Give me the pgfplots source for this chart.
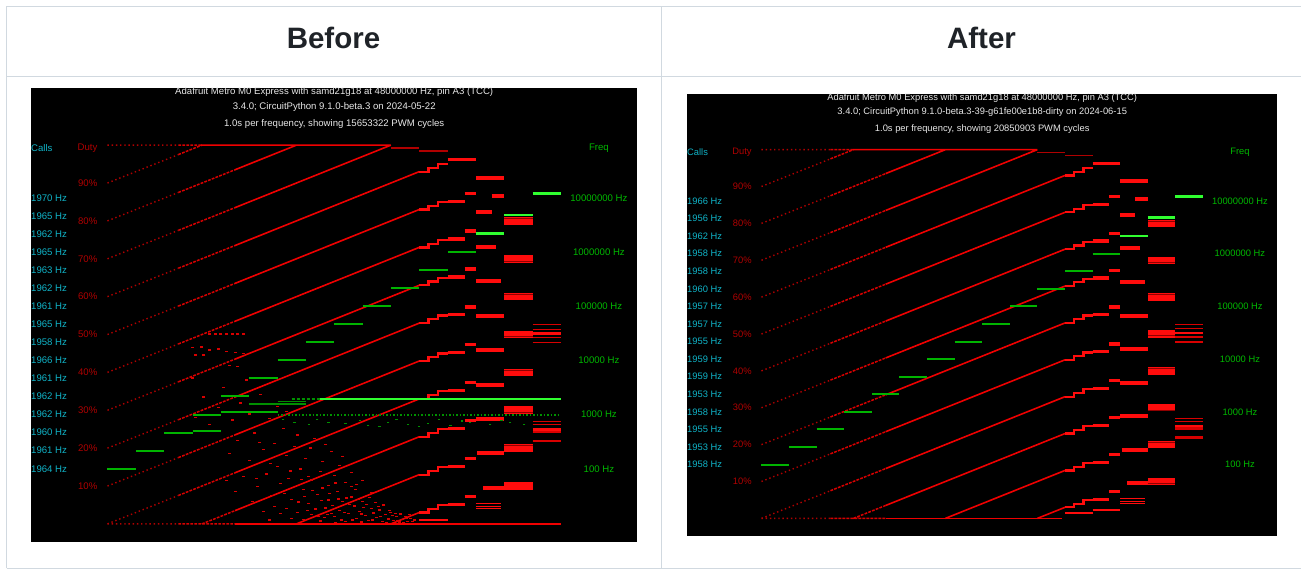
\documentclass[border=0pt]{standalone}
\usepackage{fontspec}
\setmainfont{Liberation Sans}
\usepackage{pgfplots}
\usepackage{pgfplotstable}
\pgfplotsset{compat=1.18}

\definecolor{cellborder}{HTML}{D1D9E0}
\definecolor{headtext}{HTML}{1F2328}
\definecolor{callscol}{HTML}{10B4C8}
\definecolor{dutycol}{HTML}{B00000}
\definecolor{freqcol}{HTML}{00B800}
\definecolor{titlecol}{HTML}{E8E8E8}
\definecolor{trace}{HTML}{F00000}
\definecolor{tracedim}{HTML}{B00000}
\definecolor{tracemid}{HTML}{D80000}
\definecolor{blockred}{HTML}{FF0C0C}
\definecolor{blockdark}{HTML}{900000}
\definecolor{gseg}{HTML}{00B400}
\definecolor{gbright}{HTML}{30FF30}
\definecolor{gdim}{HTML}{009000}

% ---------- duty traces, low frequencies (sparse samples) ----------
\pgfplotstableread[row sep=\\]{
t d\\
0 100\\ 2.5 100\\ nan nan\\
0 90\\ 2.5 97.5\\ nan nan\\
0 80\\ 2.5 87.5\\ nan nan\\
0 70\\ 2.5 77.5\\ nan nan\\
0 60\\ 2.5 67.5\\ nan nan\\
0 50\\ 2.5 57.5\\ nan nan\\
0 40\\ 2.5 47.5\\ nan nan\\
0 30\\ 2.5 37.5\\ nan nan\\
0 20\\ 2.5 27.5\\ nan nan\\
0 10\\ 2.5 17.5\\ nan nan\\
0 0\\ 2.5 7.5\\ nan nan\\
0 0\\ 2.5 0\\
}\sparselines

\pgfplotstableread[row sep=\\]{
t d\\
2.5 100\\ 3.3 100\\ nan nan\\
2.5 97.5\\ 3.333 100\\ nan nan\\
2.5 87.5\\ 4.5 93.5\\ nan nan\\
2.5 77.5\\ 4.5 83.5\\ nan nan\\
2.5 67.5\\ 4.5 73.5\\ nan nan\\
2.5 57.5\\ 4.5 63.5\\ nan nan\\
2.5 47.5\\ 4.5 53.5\\ nan nan\\
2.5 37.5\\ 4.5 43.5\\ nan nan\\
2.5 27.5\\ 4.5 33.5\\ nan nan\\
2.5 17.5\\ 4.5 23.5\\ nan nan\\
2.5 7.5\\ 4.5 13.5\\ nan nan\\
3.333 0\\ 4.5 3.5\\ nan nan\\
2.5 0\\ 4.5 0\\
}\denselines

\pgfplotstableread[row sep=\\]{
t d\\
3.3 100\\ 10 100\\ nan nan\\
4.5 93.5\\ 6.667 100\\ nan nan\\
4.5 83.5\\ 10 100\\ nan nan\\
4.5 73.5\\ 11 93\\ nan nan\\
4.5 63.5\\ 11 83\\ nan nan\\
4.5 53.5\\ 11 73\\ nan nan\\
4.5 43.5\\ 11 63\\ nan nan\\
4.5 33.5\\ 11 53\\ nan nan\\
4.5 23.5\\ 11 43\\ nan nan\\
4.5 13.5\\ 11 33\\ nan nan\\
4.5 3.5\\ 11 23\\ nan nan\\
6.667 0\\ 11 13\\ nan nan\\
10 0\\ 11 3\\
}\mainlines

% highest reachable duty at 215 kHz and 464 kHz
\pgfplotstableread[row sep=\\]{
t d\\
10 99.2\\ 11 99.2\\ nan nan\\
11 98.4\\ 12 98.4\\
}\toplevels

% ---------- quantised duty at high frequencies ----------
% 464 kHz: about 1 % per step
\pgfplotstableread[row sep=\\]{
t d\\
11 93\\ 11.33 93\\ 11.33 94\\ 11.67 94\\ 11.67 95\\ 12 95\\ nan nan\\
11 83\\ 11.33 83\\ 11.33 84\\ 11.67 84\\ 11.67 85\\ 12 85\\ nan nan\\
11 73\\ 11.33 73\\ 11.33 74\\ 11.67 74\\ 11.67 75\\ 12 75\\ nan nan\\
11 63\\ 11.33 63\\ 11.33 64\\ 11.67 64\\ 11.67 65\\ 12 65\\ nan nan\\
11 53\\ 11.33 53\\ 11.33 54\\ 11.67 54\\ 11.67 55\\ 12 55\\ nan nan\\
11 43\\ 11.33 43\\ 11.33 44\\ 11.67 44\\ 11.67 45\\ 12 45\\ nan nan\\
11 33\\ 11.33 33\\ 11.33 34\\ 11.67 34\\ 11.67 35\\ 12 35\\ nan nan\\
11 23\\ 11.33 23\\ 11.33 24\\ 11.67 24\\ 11.67 25\\ 12 25\\ nan nan\\
11 13\\ 11.33 13\\ 11.33 14\\ 11.67 14\\ 11.67 15\\ 12 15\\ nan nan\\
11 3\\ 11.33 3\\ 11.33 4\\ 11.67 4\\ 11.67 5\\ 12 5\\
}\stepsA

% 1 MHz: about 2 % per step
\pgfplotstableread[row sep=\\]{
t d\\
12 96.2\\ 13 96.2\\ nan nan\\
12 85.2\\ 12.6 85.2\\ nan nan\\ 12.6 87.3\\ 13 87.3\\ nan nan\\
12 75.2\\ 12.6 75.2\\ nan nan\\ 12.6 77.3\\ 13 77.3\\ nan nan\\
12 65.2\\ 12.6 65.2\\ nan nan\\ 12.6 67.3\\ 13 67.3\\ nan nan\\
12 55.2\\ 12.6 55.2\\ nan nan\\ 12.6 57.3\\ 13 57.3\\ nan nan\\
12 45.2\\ 12.6 45.2\\ nan nan\\ 12.6 47.3\\ 13 47.3\\ nan nan\\
12 35.2\\ 12.6 35.2\\ nan nan\\ 12.6 37.3\\ 13 37.3\\ nan nan\\
12 25.2\\ 12.6 25.2\\ nan nan\\ 12.6 27.3\\ 13 27.3\\ nan nan\\
12 15.2\\ 12.6 15.2\\ nan nan\\ 12.6 17.3\\ 13 17.3\\ nan nan\\
12 5.2\\ 12.6 5.2\\ nan nan\\ 12.6 7.3\\ 13 7.3\\
}\stepsB

% 2.2 MHz: 22 counts per period
\pgfplotstableread[row sep=\\]{
t d\\
13 91.4\\ 14 91.4\\ nan nan\\
13 82.3\\ 13.55 82.3\\ nan nan\\ 13.55 86.7\\ 14 86.7\\ nan nan\\
13 73.2\\ 13.7 73.2\\ nan nan\\
13 64.1\\ 13.9 64.1\\ nan nan\\
13 55.0\\ 14 55.0\\ nan nan\\
13 45.9\\ 14 45.9\\ nan nan\\
13 36.8\\ 14 36.8\\ nan nan\\
13 27.7\\ 14 27.7\\ nan nan\\
13.05 18.6\\ 14 18.6\\ nan nan\\
13.25 9.5\\ 14 9.5\\
}\stepsC

\pgfplotstableread[row sep=\\]{
t d\\
13 5.4\\ 13.9 5.4\\ nan nan\\
13 4.7\\ 13.9 4.7\\ nan nan\\
13 4.1\\ 13.9 4.1\\
}\stepsCthin

% 4.8 MHz: 10 counts per period
\pgfplotstableread[row sep=\\]{
t d\\
14 80\\ 15 80\\ nan nan\\
14 70\\ 15 70\\ nan nan\\
14 60\\ 15 60\\ nan nan\\
14 50\\ 15 50\\ nan nan\\
14 40\\ 15 40\\ nan nan\\
14 30\\ 15 30\\ nan nan\\
14 20\\ 15 20\\ nan nan\\
14 10\\ 15 10\\
}\bands

\pgfplotstableread[row sep=\\]{
t d\\
14 80.6\\ 15 80.6\\ nan nan\\
14 69.4\\ 15 69.4\\ nan nan\\
14 60.7\\ 15 60.7\\ nan nan\\
14 49.5\\ 15 49.5\\ nan nan\\
14 40.6\\ 15 40.6\\ nan nan\\
14 29.4\\ 15 29.4\\ nan nan\\
14 20.7\\ 15 20.7\\ nan nan\\
14 9.6\\ 15 9.6\\
}\bandstripes

% 12 MHz: 4 counts per period
\pgfplotstableread[row sep=\\]{
t d\\
15 52.6\\ 16 52.6\\ nan nan\\
15 51.4\\ 16 51.4\\ nan nan\\
15 49.2\\ 16 49.2\\ nan nan\\
15 47.8\\ 16 47.8\\ nan nan\\
15 27.0\\ 16 27.0\\ nan nan\\
15 26.3\\ 16 26.3\\ nan nan\\
15 24.5\\ 16 24.5\\ nan nan\\
15 24.2\\ 16 24.2\\ nan nan\\
15 22.1\\ 16 22.1\\ nan nan\\
15 21.7\\ 16 21.7\\
}\tenmeg

\pgfplotstableread[row sep=\\]{
t d\\
15 50.3\\ 16 50.3\\ nan nan\\
15 25.0\\ 16 25.0\\
}\tenmegcore

% ---------- measured frequency for each second ----------
\pgfplotstableread[row sep=\\]{
t f\\
0 100\\ 1 100\\ nan nan\\
1 215.4\\ 2 215.4\\ nan nan\\
2 464.2\\ 3 464.2\\ nan nan\\
3 1000\\ 4 1000\\ nan nan\\
4 2154\\ 5 2154\\ nan nan\\
5 4642\\ 6 4642\\ nan nan\\
6 10000\\ 7 10000\\ nan nan\\
7 21544\\ 8 21544\\ nan nan\\
8 46416\\ 9 46416\\ nan nan\\
9 100000\\ 10 100000\\ nan nan\\
10 215443\\ 11 215443\\ nan nan\\
11 464159\\ 12 464159\\ nan nan\\
12 1000000\\ 13 1000000\\
}\gsteps

\pgfplotstableread[row sep=\\]{
t f\\
13 2.18e6\\ 14 2.18e6\\ nan nan\\
14 4.8e6\\ 15 4.8e6\\ nan nan\\
15 1.2e7\\ 16 1.2e7\\
}\gbrightsteps

% ---------- glitches seen only in the old firmware ----------
\pgfplotstableread[row sep=\\]{
t d\\
6.7 3.1\\ 6.9 1.2\\ 7.1 5.4\\ 7.2 2.5\\ 7.4 7.8\\ 7.5 0.8\\ 7.7 4.2\\ 7.8 6.3\\
8.0 1.9\\ 8.1 8.5\\ 8.2 3.6\\ 8.3 5.9\\ 8.4 0.6\\ 8.5 2.8\\ 8.6 7.1\\ 8.7 4.7\\
8.8 1.4\\ 8.9 3.3\\ 9.0 6.0\\ 9.1 2.2\\ 9.2 0.9\\ 9.3 4.0\\ 9.4 2.9\\ 9.5 1.6\\
9.6 3.7\\ 9.7 0.7\\ 9.8 2.4\\ 9.9 1.3\\ 10.0 3.0\\ 10.1 0.9\\ 10.2 1.9\\ 10.3 0.5\\
10.4 1.1\\ 10.5 2.0\\ 10.6 0.7\\ 10.7 1.4\\ 7.9 2.7\\ 8.45 6.8\\ 9.15 5.1\\ 9.55 4.6\\
8.75 9.0\\ 7.35 3.9\\ 10.05 2.3\\ 9.85 0.4\\ 9.35 1.0\\ 8.25 1.0\\ 7.65 1.6\\ 8.95 0.5\\
6.75 5.8\\ 6.95 7.2\\ 7.05 3.6\\ 7.25 8.8\\ 7.45 1.9\\ 7.55 6.1\\ 7.75 2.4\\ 7.85 8.0\\
7.95 4.9\\ 8.05 0.4\\ 8.15 6.6\\ 8.35 3.1\\ 8.55 5.2\\ 8.65 1.0\\ 8.85 6.4\\ 8.95 2.6\\
9.05 4.4\\ 9.25 7.0\\ 9.45 5.6\\ 9.65 2.0\\ 9.75 5.0\\ 9.95 3.6\\ 10.15 2.8\\ 10.25 0.8\\
10.35 2.6\\ 10.45 0.3\\ 10.55 1.5\\ 10.65 2.4\\ 10.75 0.6\\ 10.85 1.0\\ 8.6 9.8\\ 9.3 8.2\\
7.6 9.5\\ 8.05 10.8\\ 9.0 11.5\\ 7.1 12.6\\ 6.3 4.0\\ 6.5 1.5\\ 6.1 2.8\\ 5.9 4.5\\
5.7 1.0\\ 5.5 3.2\\ 5.25 12.0\\ 5.75 16.0\\ 6.25 8.0\\ 6.85 11.8\\ 7.15 20.0\\ 7.7 21.0\\
6.45 14.0\\ 5.35 21.5\\
4.3 18.5\\ 4.6 22.0\\ 4.8 12.5\\ 5.0 16.8\\ 5.2 24.0\\ 5.3 9.8\\ 5.5 19.6\\ 5.6 13.2\\
5.8 7.5\\ 5.9 21.3\\ 6.0 15.1\\ 6.1 10.6\\ 6.2 25.2\\ 6.3 18.0\\ 6.4 12.0\\ 6.5 6.4\\
6.6 20.4\\ 6.8 14.5\\ 6.9 9.0\\ 7.0 17.2\\ 7.2 11.6\\ 7.3 22.6\\ 7.5 13.9\\ 7.6 16.4\\
7.8 10.2\\ 8.0 12.8\\ 8.2 15.5\\ 8.4 11.0\\ 8.6 13.6\\ 8.8 10.4\\ 5.1 6.0\\ 4.5 8.5\\
4.2 11.5\\ 6.7 23.5\\ 7.9 19.2\\ 8.3 17.8\\
3.1 28.0\\ 3.4 33.5\\ 3.6 26.2\\ 3.9 30.8\\ 4.1 36.0\\ 4.4 27.4\\ 4.7 31.9\\ 5.0 29.0\\
5.4 34.2\\ 5.7 27.8\\ 6.0 31.0\\ 6.3 29.6\\ 3.0 38.5\\ 4.9 38.0\\
3.6 50.1\\ 3.8 50.1\\ 4.0 50.1\\ 4.2 50.1\\ 4.4 50.1\\ 4.6 50.1\\ 4.8 50.1\\
3.0 46.5\\ 3.3 46.7\\ 3.6 45.9\\ 3.9 46.2\\ 4.2 45.6\\ 4.5 45.3\\ 4.8 45.0\\
3.1 44.6\\ 3.4 44.6\\ 4.3 41.8\\ 4.6 41.5\\
}\redglitches

\pgfplotstableread[row sep=\\]{
t f\\
3 500\\ 4 500\\ nan nan\\
4 1110\\ 5 1110\\ nan nan\\
5 1120\\ 6 1120\\
}\greenextra

\pgfplotstableread[row sep=\\]{
t f\\
5 1560\\ 7 1560\\ nan nan\\
6 1750\\ 7 1750\\
}\greendim

\pgfplotstableread[row sep=\\]{
t f\\
6.6 700\\ 7.1 650\\ 7.8 720\\ 8.4 680\\ 9.2 640\\ 9.9 700\\ 10.6 660\\ 11.3 690\\
12.1 640\\ 12.8 720\\ 13.5 650\\ 14.2 700\\ 6.2 820\\ 7.4 800\\ 8.9 780\\ 10.2 820\\
11.7 800\\ 12.5 760\\ 13.9 790\\ 14.7 660\\ 9.6 610\\ 11.0 600\\
}\greendots

% ---------- pieces shared by both panels ----------
\newcommand\pf{\fontsize{9.6bp}{11bp}\selectfont}
\newcommand\bandw{7.6bp}

\newcommand\dutytraces{%
  \addplot[tracedim, line width=1.4bp, dash pattern=on 1.4bp off 2.8bp] table {\sparselines};
  \addplot[tracemid, line width=1.5bp, dash pattern=on 2.8bp off 1.2bp] table {\denselines};
  \addplot[trace, line width=1.6bp] table {\mainlines};
  \addplot[tracedim, line width=1.6bp] table {\toplevels};
  \addplot[blockred, line width=2.2bp] table {\stepsA};
  \addplot[blockred, line width=3.3bp] table {\stepsB};
  \addplot[blockred, line width=4bp] table {\stepsC};
  \addplot[blockred, line width=1bp] table {\stepsCthin};
  \addplot[blockred, line width=\bandw] table {\bands};
  \addplot[blockdark, line width=0.8bp] table {\bandstripes};
  \addplot[tracemid, line width=1.3bp] table {\tenmeg};
  \addplot[blockred, line width=2.6bp] table {\tenmegcore};
}

\newcommand\dutylabels{%
  \node[anchor=west, inner sep=0pt, font=\pf, text=callscol] at (axis cs:-2.699,99.25) {Calls};
  \node[anchor=east, inner sep=0pt, font=\pf, text=dutycol] at (axis cs:-0.35,99.25) {Duty};
  \node[inner sep=0pt, font=\pf, text=freqcol] at (axis cs:17.34,99.25) {Freq};
  \node[anchor=east, inner sep=0pt, font=\pf, text=dutycol] at (axis cs:-0.35,90) {90\%};
  \node[anchor=east, inner sep=0pt, font=\pf, text=dutycol] at (axis cs:-0.35,80) {80\%};
  \node[anchor=east, inner sep=0pt, font=\pf, text=dutycol] at (axis cs:-0.35,70) {70\%};
  \node[anchor=east, inner sep=0pt, font=\pf, text=dutycol] at (axis cs:-0.35,60) {60\%};
  \node[anchor=east, inner sep=0pt, font=\pf, text=dutycol] at (axis cs:-0.35,50) {50\%};
  \node[anchor=east, inner sep=0pt, font=\pf, text=dutycol] at (axis cs:-0.35,40) {40\%};
  \node[anchor=east, inner sep=0pt, font=\pf, text=dutycol] at (axis cs:-0.35,30) {30\%};
  \node[anchor=east, inner sep=0pt, font=\pf, text=dutycol] at (axis cs:-0.35,20) {20\%};
  \node[anchor=east, inner sep=0pt, font=\pf, text=dutycol] at (axis cs:-0.35,10) {10\%};
}

\newcommand\freqlabels{%
  \node[inner sep=0pt, font=\pf, text=freqcol] at (axis cs:17.34,1e7) {10000000 Hz};
  \node[inner sep=0pt, font=\pf, text=freqcol] at (axis cs:17.34,1e6) {1000000 Hz};
  \node[inner sep=0pt, font=\pf, text=freqcol] at (axis cs:17.34,1e5) {100000 Hz};
  \node[inner sep=0pt, font=\pf, text=freqcol] at (axis cs:17.34,1e4) {10000 Hz};
  \node[inner sep=0pt, font=\pf, text=freqcol] at (axis cs:17.34,1e3) {1000 Hz};
  \node[inner sep=0pt, font=\pf, text=freqcol] at (axis cs:17.34,1e2) {100 Hz};
}

\newcommand\callsat[2]{\node[anchor=west, inner sep=0pt, font=\pf, text=callscol] at (axis cs:-2.699,#1) {#2 Hz};}

\newcommand\greenlevels{%
  \addplot[gseg, line width=2bp] table {\gsteps};
  \addplot[gbright, line width=2.4bp] table {\gbrightsteps};
}

\begin{document}
\begin{tikzpicture}[x=1bp,y=1bp]
\path[use as bounding box] (0,0) rectangle (1301,569);
\fill[white] (0,0) rectangle (1301,569);

% table frame
\draw[cellborder, line width=1.3bp] (6.7,0.7) -- (6.7,562.3) -- (1301,562.3);
\draw[cellborder, line width=1.3bp] (6.7,0.7) -- (1301,0.7);
\draw[cellborder, line width=1.3bp] (6.7,492.3) -- (1301,492.3);
\draw[cellborder, line width=1.3bp] (661.7,0.7) -- (661.7,562.3);
\node[font=\fontsize{29.5bp}{33bp}\selectfont\bfseries, text=headtext] at (333.5,531) {Before};
\node[font=\fontsize{29.5bp}{33bp}\selectfont\bfseries, text=headtext] at (981.5,531) {After};

% ================= Before =================
\begin{axis}[scale only axis, width=606bp, height=454bp, at={(31bp,27bp)}, anchor=south west,
  xmin=-2.699, xmax=18.684, ymin=-4.78, ymax=115.09,
  axis line style={draw=none}, ticks=none, unbounded coords=jump,
  axis background/.style={fill=black}]
  \addplot[only marks, mark=-, mark size=1.5bp, mark options={line width=1.3bp}, color=tracemid] table {\redglitches};
  \dutytraces
  \addplot[trace, line width=1.5bp] coordinates {(4.5,0) (16,0)};
  \addplot[blockred, line width=2.4bp] coordinates {(11,1.0) (12,1.0)};
  \addplot[blockred, line width=3bp] coordinates {(13.25,9.5) (15,9.5)};
  \node[font=\pf, text=titlecol] at (axis cs:8,113.95) {Adafruit Metro M0 Express with samd21g18 at 48000000 Hz, pin A3 (TCC)};
  \node[font=\pf, text=titlecol] at (axis cs:8,110.15) {3.4.0; CircuitPython 9.1.0-beta.3 on 2024-05-22};
  \node[font=\pf, text=titlecol] at (axis cs:8,105.5) {1.0s per frequency, showing 15653322 PWM cycles};
  \dutylabels
\end{axis}
\begin{axis}[ymode=log, scale only axis, width=606bp, height=454bp, at={(31bp,27bp)}, anchor=south west,
  xmin=-2.699, xmax=18.684, ymin=4.45, ymax=1.06e9,
  axis line style={draw=none}, ticks=none, unbounded coords=jump]
  \addplot[gdim, line width=1.5bp, dash pattern=on 1.5bp off 2bp] coordinates {(6,975) (16,975)};
  \addplot[only marks, mark=-, mark size=1.2bp, mark options={line width=1.1bp}, color=gdim] table {\greendots};
  \addplot[gdim, line width=1.6bp] table {\greendim};
  \addplot[gseg, line width=1.8bp] table {\greenextra};
  \greenlevels
  \addplot[gbright, line width=2bp] coordinates {(7.5,1926) (16,1926)};
  \addplot[gdim, line width=1.5bp, dash pattern=on 3bp off 2bp] coordinates {(6.5,1926) (7.5,1926)};
  \freqlabels
  \callsat{100}{1964}
  \callsat{215.4}{1961}
  \callsat{464.2}{1960}
  \callsat{1000}{1962}
  \callsat{2154}{1962}
  \callsat{4642}{1961}
  \callsat{10000}{1966}
  \callsat{21544}{1958}
  \callsat{46416}{1965}
  \callsat{100000}{1961}
  \callsat{215443}{1962}
  \callsat{464159}{1963}
  \callsat{1000000}{1965}
  \callsat{2154435}{1962}
  \callsat{4641589}{1965}
  \callsat{10000000}{1970}
\end{axis}

% ================= After =================
\renewcommand\pf{\fontsize{9.35bp}{10.7bp}\selectfont}
\renewcommand\bandw{7.4bp}
\begin{axis}[scale only axis, width=590bp, height=442bp, at={(687bp,33bp)}, anchor=south west,
  xmin=-2.699, xmax=18.684, ymin=-4.78, ymax=115.09,
  axis line style={draw=none}, ticks=none, unbounded coords=jump,
  axis background/.style={fill=black}]
  \dutytraces
  \addplot[trace, line width=1.5bp] coordinates {(4.5,0) (10.9,0)};
  \addplot[blockred, line width=2.4bp] coordinates {(11,1.4) (12,1.4)};
  \addplot[blockred, line width=2.4bp] coordinates {(12,2.3) (13,2.3)};
  \node[font=\pf, text=titlecol] at (axis cs:8,113.95) {Adafruit Metro M0 Express with samd21g18 at 48000000 Hz, pin A3 (TCC)};
  \node[font=\pf, text=titlecol] at (axis cs:8,110.15) {3.4.0; CircuitPython 9.1.0-beta.3-39-g61fe00e1b8-dirty on 2024-06-15};
  \node[font=\pf, text=titlecol] at (axis cs:8,105.5) {1.0s per frequency, showing 20850903 PWM cycles};
  \dutylabels
\end{axis}
\begin{axis}[ymode=log, scale only axis, width=590bp, height=442bp, at={(687bp,33bp)}, anchor=south west,
  xmin=-2.699, xmax=18.684, ymin=4.45, ymax=1.06e9,
  axis line style={draw=none}, ticks=none, unbounded coords=jump]
  \greenlevels
  \freqlabels
  \callsat{100}{1958}
  \callsat{215.4}{1953}
  \callsat{464.2}{1955}
  \callsat{1000}{1958}
  \callsat{2154}{1953}
  \callsat{4642}{1959}
  \callsat{10000}{1959}
  \callsat{21544}{1955}
  \callsat{46416}{1957}
  \callsat{100000}{1957}
  \callsat{215443}{1960}
  \callsat{464159}{1958}
  \callsat{1000000}{1958}
  \callsat{2154435}{1962}
  \callsat{4641589}{1956}
  \callsat{10000000}{1966}
\end{axis}
\end{tikzpicture}
\end{document}
